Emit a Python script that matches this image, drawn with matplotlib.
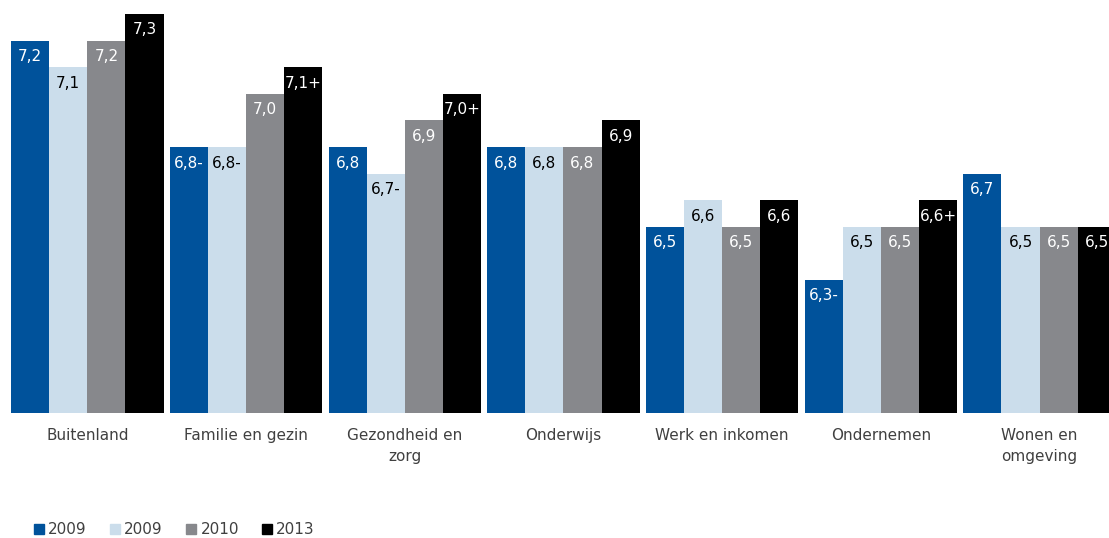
import os
import numpy as np
import matplotlib
matplotlib.use("Agg")
import matplotlib.pyplot as plt
from matplotlib import font_manager as fm
from matplotlib.patches import Patch

# DejaVu Sans uit matplotlib zelf (lijkt het meest op Verdana)
dv_path = os.path.join(matplotlib.get_data_path(), "fonts", "ttf", "DejaVuSans.ttf")
fm.fontManager.addfont(dv_path)
dv_name = fm.FontProperties(fname=dv_path).get_name()
plt.rcParams["font.family"] = [dv_name]

# categorieen en waarden (rapportcijfers)
categories = ["Buitenland", "Familie en gezin", "Gezondheid en\nzorg", "Onderwijs",
              "Werk en inkomen", "Ondernemen", "Wonen en\nomgeving"]
series_names = ["2009", "2009", "2010", "2013"]
values = [
    [7.2, 6.8, 6.8, 6.8, 6.5, 6.3, 6.7],
    [7.1, 6.8, 6.7, 6.8, 6.6, 6.5, 6.5],
    [7.2, 7.0, 6.9, 6.8, 6.5, 6.5, 6.5],
    [7.3, 7.1, 7.0, 6.9, 6.6, 6.6, 6.5],
]
labels = [
    ["7,2", "6,8-", "6,8", "6,8", "6,5", "6,3-", "6,7"],
    ["7,1", "6,8-", "6,7-", "6,8", "6,6", "6,5", "6,5"],
    ["7,2", "7,0", "6,9", "6,8", "6,5", "6,5", "6,5"],
    ["7,3", "7,1+", "7,0+", "6,9", "6,6", "6,6+", "6,5"],
]

colors = ["#00529B", "#CBDDEB", "#87888C", "#000000"]
text_colors = ["white", "black", "white", "white"]

W, H = 1109, 538
fig = plt.figure(figsize=(W / 100, H / 100), dpi=100)
ax = fig.add_axes([8 / W, (H - 413) / H, 1101 / W, 413 / H])

x = np.arange(len(categories))
bw = 0.24
for i in range(4):
    pos = x - 1.5 * bw + i * bw
    ax.bar(pos, np.array(values[i]) - 5.8, bw, bottom=5.8, color=colors[i])
    for px, v, lab in zip(pos, values[i], labels[i]):
        ax.annotate(lab, (px, v), xytext=(0, -16), textcoords="offset pixels",
                    ha="center", va="center", fontsize=11,
                    color=text_colors[i])

ax.set_xlim(-0.5, -0.5 + 1101 / 158.7)
ax.set_ylim(5.8, 5.8 + 413 / 266)
ax.set_xticks(x)
ax.set_xticklabels(categories, fontsize=11, color="#404040",
                   multialignment="center", linespacing=1.5)
ax.tick_params(axis="x", length=0, pad=11)
ax.set_yticks([])
for s in ax.spines.values():
    s.set_visible(False)

handles = [Patch(color=c, label=n) for c, n in zip(colors, series_names)]
fig.legend(handles=handles, loc="lower left", bbox_to_anchor=(20 / W, -13 / H),
           ncol=4, frameon=False, fontsize=11, handlelength=0.65,
           handleheight=0.65, handletextpad=0.3, columnspacing=1.5,
           labelcolor="#404040")

fig.savefig("out.png", dpi=100)
